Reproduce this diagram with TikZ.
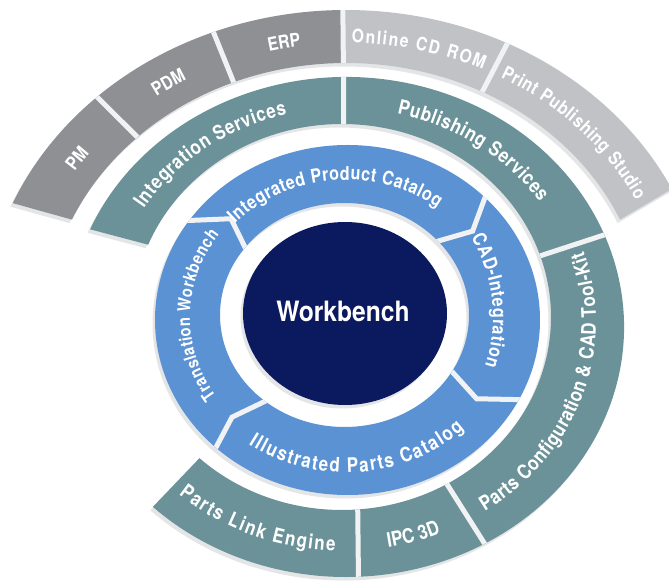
\documentclass[tikz,border=0pt]{standalone}
\usepackage{fontspec}
\newfontfamily\hv[FakeStretch=0.88]{TeX Gyre Heros}
\newfontfamily\hvc[FakeStretch=0.85]{TeX Gyre Heros}
\usetikzlibrary{decorations.text}
\definecolor{navy}{HTML}{0B1A5E}
\definecolor{ringblue}{HTML}{5A92D4}
\definecolor{ringteal}{HTML}{6A9298}
\definecolor{gdark}{HTML}{8E9093}
\definecolor{glight}{HTML}{C0C2C5}
\definecolor{shadowc}{HTML}{E4E5E6}
\definecolor{gapc}{HTML}{F1F2F3}
\newcommand\lfmt[1]{\hvc\bfseries\fontsize{#1pt}{#1pt}\selectfont\color{white}}
% #1 centre x,y  #2 start  #3 end  #4 rx  #5 ry  #6 align  #7 format  #8 text
\newcommand\ringlabel[8]{%
  \path[decorate,decoration={text along path,text align=#6,text={|#7|#8}}]
    ([shift={(#1)}]#2:#4 and #5) arc[start angle=#2,end angle=#3,x radius=#4,y radius=#5];}
% ring shapes
\def\pGD{([shift={(346,257)}]157:362pt and 317pt) arc[start angle=157,end angle=90.5,x radius=362pt,y radius=317pt]
  -- ([shift={(346,257)}]90.5:300pt and 264pt) arc[start angle=90.5,end angle=156,x radius=300pt,y radius=264pt] -- cycle}
\def\pGL{([shift={(346,257)}]90.5:362pt and 317pt) arc[start angle=90.5,end angle=25.8,x radius=362pt,y radius=317pt]
  -- ([shift={(346,257)}]24:300pt and 264pt) arc[start angle=24,end angle=90.5,x radius=300pt,y radius=264pt] -- cycle}
\def\pT{([shift={(346,257)}]157:278pt and 250pt) arc[start angle=157,end angle=-134,x radius=278pt,y radius=250pt]
  -- ([shift={(342,267)}]-133:209pt and 193pt) arc[start angle=-133,end angle=158,x radius=209pt,y radius=193pt] -- cycle}
\def\pB{(347.5,264) ellipse[x radius=192.5pt,y radius=175pt] (344.5,269) ellipse[x radius=124.5pt,y radius=112pt]}
\def\pD{(345,270.5) ellipse[x radius=102pt,y radius=91.5pt]}
\tikzset{gap/.style={gapc,line width=5pt}}
\begin{document}
\begin{tikzpicture}[x=1pt,y=1pt]
\useasboundingbox (0,0) rectangle (669,584);
\fill[white] (0,0) rectangle (669,584);
% soft shadows
\begin{scope}[shift={(-2.5,-3.5)}]
  \fill[shadowc] \pGD; \fill[shadowc] \pGL; \fill[shadowc] \pT;
  \fill[shadowc,even odd rule] \pB; \fill[shadowc] \pD;
\end{scope}
% outer grey ring
\fill[gdark] \pGD;
\fill[glight] \pGL;
\begin{scope}
  \clip \pGD \pGL;
  \foreach \a/\b in {133.5/134,111.5/112,90.5/90.5,63.5/63}
    \draw[gap] ([shift={(346,257)}]\a:370pt and 325pt) -- ([shift={(346,257)}]\b:292pt and 256pt);
\end{scope}
% teal ring
\fill[ringteal] \pT;
\begin{scope}
  \clip \pT;
  \foreach \a/\b in {90.5/89.5,21.5/18.5,-60/-60,-87.5/-85.5}
    \draw[gap] ([shift={(346,257)}]\a:288pt and 260pt) -- ([shift={(342,267)}]\b:199pt and 183pt);
\end{scope}
% blue ring with arrow-shaped joints
\fill[ringblue,even odd rule] \pB;
\begin{scope}[even odd rule]
  \clip \pB;
  \foreach \o/\t/\i in {147/136.5/145,45.5/37/43,-26/-34.5/-29,-132.5/-136/-128}
    \draw[gap,line join=miter] ([shift={(347.5,264)}]\o:200pt and 182pt) -- ([shift={(346,266.5)}]\t:158.5pt and 143.5pt) -- ([shift={(344.5,269)}]\i:117pt and 105pt);
\end{scope}
% centre
\fill[navy] \pD;
\node[font=\hv\bfseries\fontsize{28pt}{28pt}\selectfont,text=white,inner sep=0pt] (wb) at (343,273) {Workbench};
% labels: grey ring
\ringlabel{346,257}{165}{125}{324pt}{284pt}{center}{\lfmt{18.5}}{PM}
\ringlabel{346,257}{143}{103}{324pt}{284pt}{center}{\lfmt{18.5}}{PDM}
\ringlabel{346,257}{121}{81}{324pt}{284pt}{center}{\lfmt{18.5}}{ERP}
\ringlabel{346,257}{89}{65}{324pt}{284pt}{fit to path}{\lfmt{18.5}}{Online CD ROM}
\ringlabel{346,257}{61.5}{26.5}{324pt}{284pt}{fit to path}{\lfmt{18.5}}{Print Publishing Studio}
% labels: teal ring
\ringlabel{344,262}{148}{104}{236pt}{214pt}{fit to path}{\lfmt{20}}{Integration Services}
\ringlabel{344,262}{77}{34}{236pt}{214pt}{fit to path}{\lfmt{20}}{Publishing Services}
\ringlabel{344,262}{-56}{18}{252pt}{229pt}{fit to path}{\lfmt{20}}{Parts Configuration {\&} CAD Tool-Kit}
\ringlabel{344,262}{-93}{-54}{252pt}{229pt}{center}{\lfmt{20}}{IPC 3D}
\ringlabel{344,262}{-131}{-92}{252pt}{229pt}{fit to path}{\lfmt{20}}{Parts Link Engine}
% labels: blue ring
\ringlabel{346,266.5}{137}{53}{152pt}{137.5pt}{fit to path}{\lfmt{19}}{Integrated Product Catalog}
\ringlabel{348,266.5}{32}{-19}{145pt}{150pt}{fit to path}{\lfmt{19}}{CAD-Integration}
\ringlabel{335,266.5}{215}{143}{145pt}{137.5pt}{fit to path}{\lfmt{17.5}}{Translation Workbench}
\ringlabel{346,266.5}{-125}{-46}{170pt}{155pt}{fit to path}{\lfmt{20}}{Illustrated Parts Catalog}
\end{tikzpicture}
\end{document}
